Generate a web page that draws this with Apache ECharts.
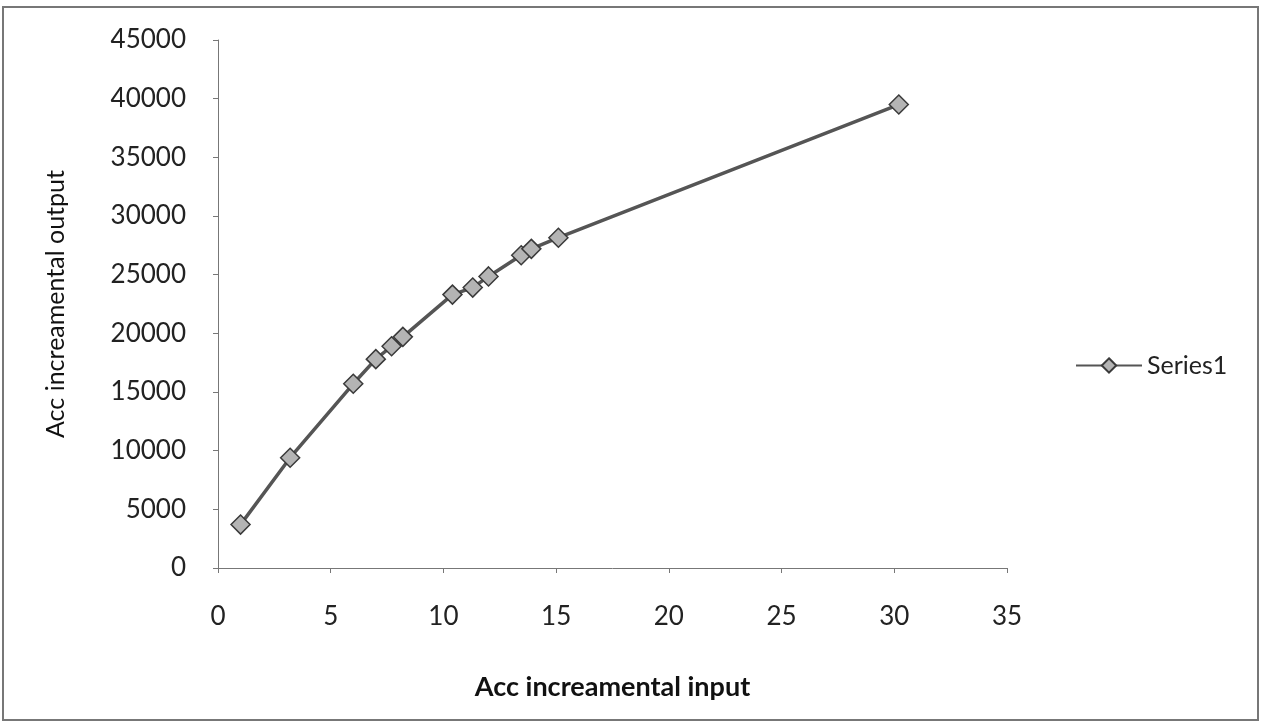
<!DOCTYPE html>
<html>
<head>
<meta charset="utf-8">
<script src="https://cdn.jsdelivr.net/npm/echarts@6/dist/echarts.min.js"></script>
<style>
	html, body { margin: 0; padding: 0; background: #fff; }
	#chart { width: 1262px; height: 727px; }
</style>
</head>
<body>
<div id="chart"></div>
<script>
	// values
	const accInput = [1, 3.2, 6, 7, 7.7, 8.2, 10.4, 11.3, 12, 13.45, 13.9, 15.1, 30.2];
	const accOutput = [3700, 9400, 15700, 17800, 18900, 19700, 23300, 23900, 24850, 26650, 27200, 28150, 39500];
	const seriesName = 'Series1';

	const points = accInput.map((x, i) => [x, accOutput[i]]);

	const chart = echarts.init(document.getElementById('chart'));
	const font = 'Lato, "Open Sans", sans-serif';

	chart.setOption({
		animation: false,
		backgroundColor: '#fff',
		graphic: [{
			type: 'rect',
			shape: { x: 3, y: 7, width: 1255, height: 713 },
			style: { fill: 'none', stroke: '#777', lineWidth: 2 }
		}],
		grid: {
			left: 218,
			right: 255,
			top: 40,
			bottom: 159
		},
		legend: {
			data: [seriesName],
			left: 1070,
			top: 348,
			itemWidth: 66,
			itemHeight: 18,
			itemGap: 6,
			textStyle: { fontFamily: font, fontSize: 25, color: '#222' }
		},
		xAxis: {
			type: 'value',
			min: 0,
			max: 35,
			interval: 5,
			name: 'Acc increamental input',
			nameLocation: 'middle',
			nameGap: 106,
			nameTextStyle: { fontFamily: font, fontSize: 27, fontWeight: 'bold', color: '#111' },
			splitLine: { show: false },
			axisLine: { lineStyle: { color: '#777', width: 1 } },
			axisTick: { length: 5, lineStyle: { color: '#777' } },
			axisLabel: { fontFamily: font, fontSize: 26, color: '#222', margin: 36 }
		},
		yAxis: {
			type: 'value',
			min: 0,
			max: 45000,
			interval: 5000,
			name: 'Acc increamental output',
			nameLocation: 'middle',
			nameGap: 150,
			nameTextStyle: { fontFamily: font, fontSize: 25, color: '#111' },
			splitLine: { show: false },
			axisLine: { show: true, lineStyle: { color: '#777', width: 1 } },
			axisTick: { show: true, length: 5, lineStyle: { color: '#777' } },
			axisLabel: {
				fontFamily: font, fontSize: 26, color: '#222', margin: 32,
				formatter: v => String(v)
			}
		},
		series: [{
			name: seriesName,
			type: 'line',
			data: points,
			symbol: 'diamond',
			symbolSize: 19,
			lineStyle: { color: '#555', width: 3.5 },
			itemStyle: { color: '#b4b4b4', borderColor: '#3a3a3a', borderWidth: 1.5 }
		}]
	});
</script>
</body>
</html>
